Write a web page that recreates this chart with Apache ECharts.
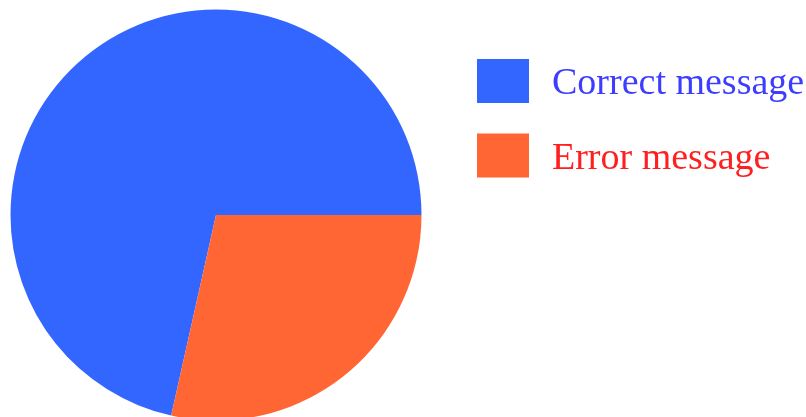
<!DOCTYPE html>
<html>
<head>
<meta charset="utf-8">
<script src="https://cdn.jsdelivr.net/npm/echarts@6/dist/echarts.min.js"></script>
<style>
html,body{margin:0;padding:0;background:#fff;}
#chart{width:806px;height:417px;}
</style>
</head>
<body>
<div id="chart"></div>
<script>
var categories = ['Correct message', 'Error message'];
var values = [71.5, 28.5];
var sliceColors = ['#3366ff', '#ff6633'];
var textColors = ['#3d3dff', '#ff1f1f'];

var chart = echarts.init(document.getElementById('chart'), null, {renderer: 'canvas'});
chart.setOption({
  animation: false,
  backgroundColor: '#ffffff',
  legend: {
    orient: 'vertical',
    left: 477,
    top: 59,
    padding: 0,
    itemWidth: 52,
    itemHeight: 44,
    itemGap: 30,
    icon: 'rect',
    formatter: function (name) {
      return '{t' + categories.indexOf(name) + '|' + name + '}';
    },
    data: categories,
    textStyle: {
      fontFamily: '"Liberation Serif", "Times New Roman", serif',
      fontSize: 38,
      rich: {
        t0: {color: textColors[0], fontFamily: '"Liberation Serif", serif', fontSize: 38, padding: [7, 0, 0, 18]},
        t1: {color: textColors[1], fontFamily: '"Liberation Serif", serif', fontSize: 38, padding: [7, 0, 0, 18]}
      }
    }
  },
  series: [{
    type: 'pie',
    center: [216, 215],
    radius: 205.5,
    startAngle: 0,
    clockwise: false,
    label: {show: false},
    labelLine: {show: false},
    emphasis: {disabled: true},
    itemStyle: {borderWidth: 0},
    data: categories.map(function (c, i) {
      return {name: c, value: values[i], itemStyle: {color: sliceColors[i]}};
    })
  }]
});
</script>
</body>
</html>
